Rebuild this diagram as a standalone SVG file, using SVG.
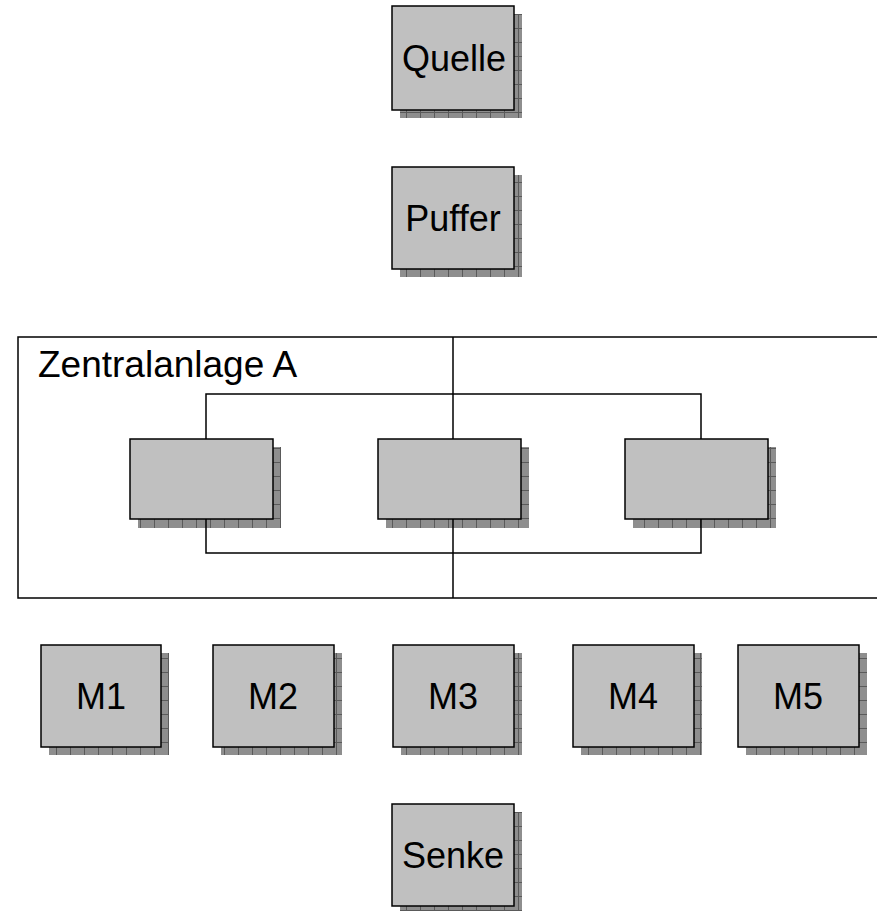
<svg xmlns="http://www.w3.org/2000/svg" width="877" height="911" viewBox="0 0 877 911">
<defs>
<pattern id="brick" x="0" y="0" width="14" height="14" patternUnits="userSpaceOnUse">
<rect width="14" height="14" fill="#8e8e8e"/>
<path d="M0 0.5H14M0.5 0V14" stroke="#5a5a5a" stroke-width="1"/>
</pattern>
</defs>
<style>
.box{fill:#c0c0c0;stroke:#000;stroke-width:1.5}
.sh{fill:url(#brick)}
.t{font-family:"Liberation Sans",Arial,sans-serif;font-size:36px;fill:#000;text-anchor:middle}
.c{fill:none;stroke:#000;stroke-width:1.5}
</style>
<rect width="877" height="911" fill="#fff"/>
<g id="zentralanlage">
<rect x="18" y="337" width="900" height="261" fill="none" stroke="#000" stroke-width="1.5"/>
<text x="38" y="377" style="font-family:'Liberation Sans',Arial,sans-serif;font-size:37px">Zentralanlage A</text>
</g>
<g id="quelle"><rect class="sh" x="400" y="14" width="122" height="104"/><rect class="box" x="392" y="6" width="122" height="104"/><text class="t" x="454" y="71">Quelle</text></g>
<g id="puffer"><rect class="sh" x="400" y="175" width="122" height="102"/><rect class="box" x="392" y="167" width="122" height="102"/><text class="t" x="453" y="231">Puffer</text></g>
<g id="a1"><rect class="sh" x="138" y="447" width="143" height="81"/><rect class="box" x="130" y="439" width="143" height="80"/></g>
<g id="a2"><rect class="sh" x="386" y="447" width="143" height="81"/><rect class="box" x="378" y="439" width="143" height="80"/></g>
<g id="a3"><rect class="sh" x="633" y="447" width="143" height="81"/><rect class="box" x="625" y="439" width="143" height="80"/></g>
<g id="m1"><rect class="sh" x="49" y="653" width="120" height="102"/><rect class="box" x="41" y="645" width="120" height="102"/><text class="t" x="101" y="709">M1</text></g>
<g id="m2"><rect class="sh" x="221" y="653" width="121" height="102"/><rect class="box" x="213" y="645" width="121" height="102"/><text class="t" x="273" y="709">M2</text></g>
<g id="m3"><rect class="sh" x="401" y="653" width="121" height="102"/><rect class="box" x="393" y="645" width="121" height="102"/><text class="t" x="453" y="709">M3</text></g>
<g id="m4"><rect class="sh" x="581" y="653" width="121" height="102"/><rect class="box" x="573" y="645" width="121" height="102"/><text class="t" x="633" y="709">M4</text></g>
<g id="m5"><rect class="sh" x="746" y="653" width="121" height="102"/><rect class="box" x="738" y="645" width="121" height="102"/><text class="t" x="798" y="709">M5</text></g>
<g id="senke"><rect class="sh" x="400" y="812" width="122" height="102"/><rect class="box" x="392" y="804" width="122" height="102"/><text class="t" x="453" y="868">Senke</text></g>
<g id="connectors">
<path class="c" d="M453 337V439M453 519V598"/>
<path class="c" d="M206 439V394H701V439"/>
<path class="c" d="M206 519V553H701V519"/>
</g>
</svg>
